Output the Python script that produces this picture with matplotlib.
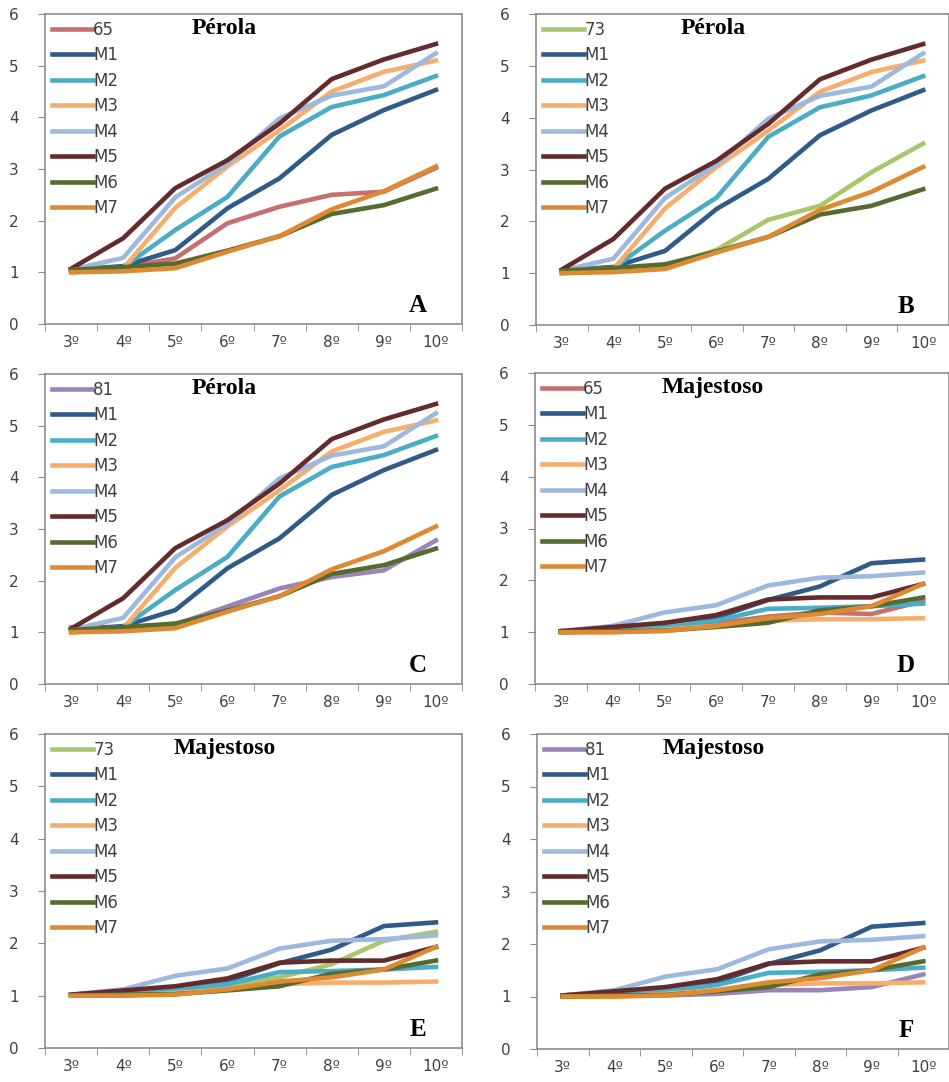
import matplotlib.pyplot as plt
import numpy as np

stages = ['3º', '4º', '5º', '6º', '7º', '8º', '9º', '10º']
m_names = ['M1', 'M2', 'M3', 'M4', 'M5', 'M6', 'M7']

# Pérola: M1..M7
perola_M = [
    [1.05, 1.12, 1.43, 2.24, 2.82, 3.66, 4.14, 4.53],
    [1.05, 1.10, 1.82, 2.46, 3.63, 4.20, 4.43, 4.80],
    [1.00, 1.08, 2.25, 3.05, 3.75, 4.50, 4.88, 5.10],
    [1.05, 1.28, 2.45, 3.10, 3.98, 4.42, 4.60, 5.24],
    [1.07, 1.66, 2.63, 3.17, 3.88, 4.74, 5.12, 5.42],
    [1.05, 1.10, 1.17, 1.42, 1.70, 2.13, 2.30, 2.62],
    [1.00, 1.02, 1.08, 1.40, 1.70, 2.22, 2.57, 3.05],
]
perola_65 = [1.05, 1.10, 1.27, 1.95, 2.27, 2.50, 2.56, 3.02]
perola_73 = [1.00, 1.05, 1.12, 1.45, 2.03, 2.30, 2.95, 3.50]
perola_81 = [1.10, 1.10, 1.15, 1.50, 1.85, 2.07, 2.20, 2.78]

# Majestoso: M1..M7
majestoso_M = [
    [1.02, 1.08, 1.15, 1.28, 1.62, 1.88, 2.33, 2.40],
    [1.00, 1.05, 1.10, 1.22, 1.45, 1.47, 1.50, 1.55],
    [1.00, 1.00, 1.05, 1.12, 1.22, 1.25, 1.25, 1.27],
    [1.02, 1.12, 1.38, 1.52, 1.90, 2.05, 2.08, 2.15],
    [1.02, 1.10, 1.18, 1.33, 1.63, 1.67, 1.67, 1.93],
    [1.00, 1.02, 1.03, 1.10, 1.18, 1.42, 1.50, 1.67],
    [1.00, 1.00, 1.02, 1.12, 1.27, 1.35, 1.50, 1.93],
]
majestoso_65 = [1.00, 1.02, 1.10, 1.17, 1.30, 1.38, 1.35, 1.60]
majestoso_73 = [1.00, 1.05, 1.10, 1.20, 1.35, 1.60, 2.05, 2.22]
majestoso_81 = [1.00, 1.02, 1.02, 1.05, 1.12, 1.12, 1.18, 1.42]

m_colors = ['#2E5B88', '#4BACC6', '#F6AE6E', '#9DB9DE', '#632B2B', '#556B2F', '#DD8A32']
extra_colors = {'65': '#C46F70', '73': '#A8C66C', '81': '#9A84B8'}

panels = [
    ('A', 'Pérola', '65', perola_65, perola_M, [45, 14, 462, 324]),
    ('B', 'Pérola', '73', perola_73, perola_M, [536, 14, 949, 325]),
    ('C', 'Pérola', '81', perola_81, perola_M, [45, 374, 462, 684]),
    ('D', 'Majestoso', '65', majestoso_65, majestoso_M, [535, 373, 949, 684]),
    ('E', 'Majestoso', '73', majestoso_73, majestoso_M, [45, 734, 462, 1048]),
    ('F', 'Majestoso', '81', majestoso_81, majestoso_M, [537, 734, 949, 1049]),
]

W, H = 949, 1082
fig = plt.figure(figsize=(W / 100, H / 100), dpi=100)
x = np.arange(len(stages))

for letter, title, ename, evals, mvals, (l, t, r, b) in panels:
    ax = fig.add_axes([l / W, 1 - b / H, (r - l) / W, (b - t) / H])
    ax.plot(x, evals, color=extra_colors[ename], lw=3.3, label=ename)
    for name, vals, c in zip(m_names, mvals, m_colors):
        ax.plot(x, vals, color=c, lw=3.3, label=name)
    ax.set_xlim(-0.5, len(stages) - 0.5)
    ax.set_ylim(0, 6)
    ax.set_yticks(range(7))
    ax.set_xticks(x)
    ax.set_xticklabels(stages)
    ax.set_xticks(np.arange(-0.5, len(stages)), minor=True)
    ax.tick_params(axis='x', which='major', length=0, pad=8, labelsize=11, labelcolor='#404040')
    ax.tick_params(axis='x', which='minor', length=5, color='#8C8C8C', direction='out')
    ax.tick_params(axis='y', length=5, color='#8C8C8C', pad=14, labelsize=11, labelcolor='#404040')
    for sp in ax.spines.values():
        sp.set_color('#8C8C8C')
        sp.set_linewidth(1.2)
    ax.text(0.43, 0.953, title, transform=ax.transAxes, ha='center', va='center',
            family='Liberation Serif', fontweight='bold', fontsize=17)
    ax.text(0.895, 0.06, letter, transform=ax.transAxes, ha='center', va='center',
            family='Liberation Serif', fontweight='bold', fontsize=18)
    leg = ax.legend(loc='upper left', frameon=False, handlelength=2.5, handletextpad=0.0,
                    labelspacing=0.45, borderaxespad=0.2, borderpad=0.2,
                    prop={'family': 'DejaVu Sans', 'size': 12})
    for txt in leg.get_texts():
        txt.set_color('#404040')

fig.savefig('out.png', dpi=100)
